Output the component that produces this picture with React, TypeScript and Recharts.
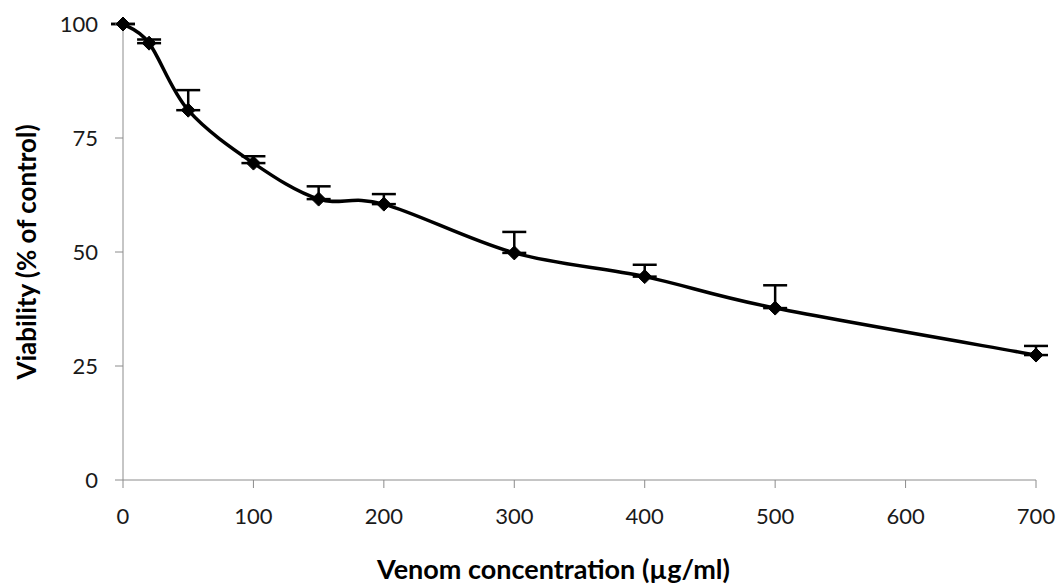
import { LineChart, Line, XAxis, YAxis, ErrorBar } from 'recharts'

// venom concentration (µg/ml)
const concentrations = [0, 20, 50, 100, 150, 200, 300, 400, 500, 700]
// viability (% of control)
const viability = [100, 95.8, 81.1, 69.5, 61.6, 60.5, 49.8, 44.6, 37.7, 27.4]
// upper error only (SD shown above the point)
const errUp = [0, 0.8, 4.4, 1.5, 2.8, 2.2, 4.6, 2.6, 5.0, 2.0]

const xTicks = [0, 100, 200, 300, 400, 500, 600, 700]
const yTicks = [0, 25, 50, 75, 100]

const data = concentrations.map((c, i) => ({
  conc: c,
  viability: viability[i],
  err: [0, errUp[i]],
}))

const font = 'Lato, "Open Sans", sans-serif'
const axisGray = '#8c8c8c'

// Excel "smoothed line": Catmull-Rom style bezier through the points
function excelSmooth(context: any) {
  let pts: number[][] = []
  return {
    areaStart() {},
    areaEnd() {},
    lineStart() {
      pts = []
    },
    point(x: number, y: number) {
      pts.push([+x, +y])
    },
    lineEnd() {
      if (!pts.length) return
      context.moveTo(pts[0][0], pts[0][1])
      for (let i = 0; i < pts.length - 1; i++) {
        const p0 = pts[Math.max(i - 1, 0)]
        const p1 = pts[i]
        const p2 = pts[i + 1]
        const p3 = pts[Math.min(i + 2, pts.length - 1)]
        context.bezierCurveTo(
          p1[0] + (p2[0] - p0[0]) / 6,
          p1[1] + (p2[1] - p0[1]) / 6,
          p2[0] - (p3[0] - p1[0]) / 6,
          p2[1] - (p3[1] - p1[1]) / 6,
          p2[0],
          p2[1]
        )
      }
    },
  }
}

// Excel-like diamond marker
function Diamond(props: any) {
  const { cx, cy } = props
  if (cx == null || cy == null) return null
  const r = 7
  return (
    <path
      d={`M${cx},${cy - r}L${cx + r},${cy}L${cx},${cy + r}L${cx - r},${cy}Z`}
      fill="#000"
      stroke="#000"
      strokeWidth={1}
    />
  )
}

export default function App() {
  return (
    <div
      style={{
        position: 'fixed',
        left: 0,
        top: 0,
        width: 1059,
        height: 587,
        overflow: 'hidden',
        background: '#fff',
      }}
    >
      <LineChart
        width={1059}
        height={587}
        data={data}
        margin={{ top: 24, right: 23, bottom: 0, left: 0 }}
        style={{ display: 'block' }}
      >
        <XAxis
          type="number"
          dataKey="conc"
          domain={[0, 700]}
          ticks={xTicks}
          height={107}
          stroke={axisGray}
          tickSize={8}
          tickMargin={20}
          tick={{ fill: '#1a1a1a', fontSize: 22, fontFamily: font }}
          label={{
            value: 'Venom concentration (µg/ml)',
            position: 'insideBottom',
            offset: 8,
            dx: -26,
            style: { fill: '#000', fontSize: 27, fontWeight: 700, fontFamily: font },
          }}
        />
        <YAxis
          type="number"
          domain={[0, 100]}
          ticks={yTicks}
          width={123}
          stroke={axisGray}
          tickSize={8}
          tickMargin={17}
          tick={{ fill: '#1a1a1a', fontSize: 22, fontFamily: font }}
          label={{
            value: 'Viability (% of control)',
            angle: -90,
            position: 'insideLeft',
            offset: 27,
            style: {
              textAnchor: 'middle',
              fill: '#000',
              fontSize: 26,
              fontWeight: 700,
              fontFamily: font,
            },
          }}
        />
        <Line
          type={excelSmooth as any}
          dataKey="viability"
          stroke="#000"
          strokeWidth={3.5}
          dot={<Diamond />}
          activeDot={false}
          isAnimationActive={false}
        >
          <ErrorBar
            dataKey="err"
            direction="y"
            width={12}
            stroke="#000"
            strokeWidth={2.5}
            isAnimationActive={false}
          />
        </Line>
      </LineChart>
    </div>
  )
}
